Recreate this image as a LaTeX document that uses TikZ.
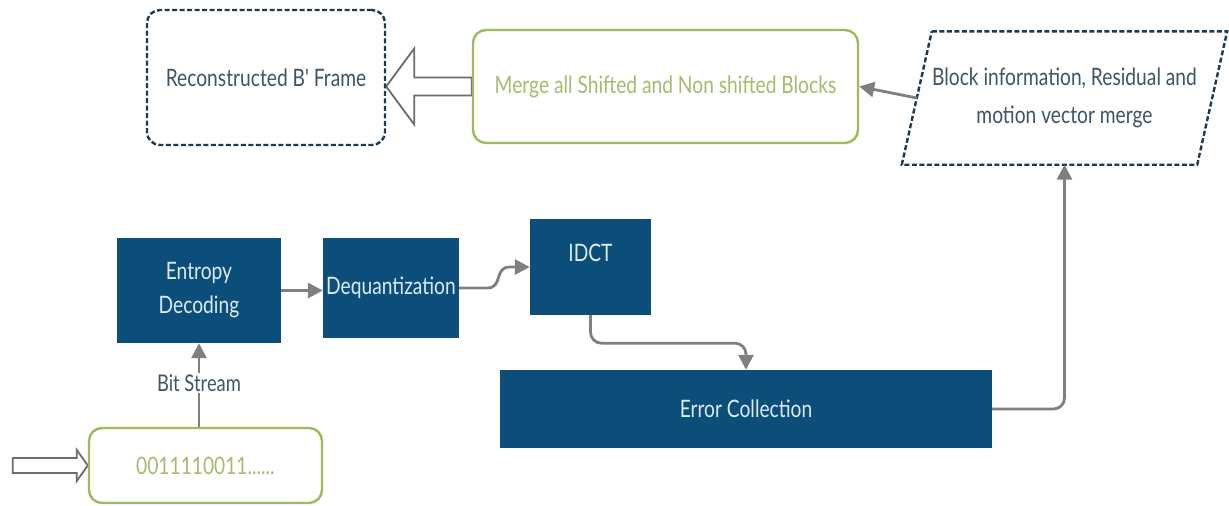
\documentclass[tikz,border=0pt]{standalone}
\usepackage{fontspec}
\setmainfont{Lato}[FakeStretch=0.8]
\newfontfamily\rawlato{Lato}[FakeStretch=0.8,Ligatures=TeXOff]
\usetikzlibrary{arrows.meta,calc}
\pgfdeclarelayer{background}
\pgfsetlayers{background,main}
\definecolor{dblue}{HTML}{0C4E7A}
\definecolor{dashc}{HTML}{1E3A4F}
\definecolor{grline}{HTML}{9DBA5C}
\definecolor{grtext}{HTML}{A3BC6E}
\definecolor{arc}{HTML}{7F7F7F}
\definecolor{txt}{HTML}{3E5566}
\definecolor{lt}{HTML}{DCEBF5}
\begin{document}
\begin{tikzpicture}[x=1pt,y=-1pt,
  bluebox/.style={fill=dblue,draw=none,text=lt,font=\fontsize{24}{34}\selectfont,align=center,inner sep=0pt},
  greenbox/.style={draw=grline,line width=2.4pt,rounded corners=13pt,text=grtext,font=\fontsize{24}{28}\selectfont,align=center,inner sep=0pt},
  dashbox/.style={draw=dashc,line width=2.4pt,dash pattern=on 5pt off 2.5pt,rounded corners=13pt,text=txt,font=\fontsize{24}{28}\selectfont,align=center,inner sep=0pt},
  flow/.style={draw=arc,line width=2.8pt,-{Triangle[length=15pt,width=15pt]}},
  plain/.style={draw=arc,line width=2.2pt},
  hollow/.style={draw=arc!85!black,line width=1.8pt,fill=white,line join=miter},
  lbl/.style={text=txt,font=\fontsize{23}{28}\selectfont,inner sep=1pt}]
\useasboundingbox (0,0) rectangle (1229,506);

% nodes
\node[dashbox,minimum width=238pt,minimum height=135pt] (recon) at (266,77.5) {Reconstructed B{\rawlato '} Frame};
\node[greenbox,minimum width=385pt,minimum height=113pt] (merge) at (665.5,86.5) {Merge all Shifted and Non shifted Blocks};
\node[draw=none,minimum width=295pt,minimum height=133pt,text=txt,font=\fontsize{24}{38}\selectfont,align=center,inner sep=0pt] (para) at (1064.5,98) {Block information, Residual and\\motion vector merge};
\draw[draw=dashc,line width=2.4pt,dash pattern=on 5pt off 2.5pt]
  ($(para.north west)+(15,0)$) -- ($(para.north east)+(15,0)$) --
  ($(para.south east)+(-15,0)$) -- ($(para.south west)+(-15,0)$) -- cycle;

\node[bluebox,minimum width=164pt,minimum height=105pt] (ent) at (199,290.5) {Entropy\\Decoding};
\node[bluebox,minimum width=136pt,minimum height=100pt] (deq) at (391,288) {Dequantization};
\node[bluebox,minimum width=121pt,minimum height=96pt] (idct) at (590.5,267) {};
\node[text=lt,font=\fontsize{24}{28}\selectfont,inner sep=0pt] (idcttext) at ($(idct.center)+(0,-14)$) {IDCT};
\node[bluebox,minimum width=492pt,minimum height=78pt] (err) at (746,409) {Error Collection};
\node[greenbox,minimum width=233pt,minimum height=75pt] (bits) at (205.5,465.5) {0011110011......};
\node[lbl] (bitlbl) at (199,383) {Bit Stream};

% connectors
\draw[flow] (para.west) -- (merge.east);
\draw[flow] (ent.east) -- (deq.west |- ent.east);
\draw[flow] (deq.east) -- ++(28,0) .. controls +(16,0) and +(-16,0) .. ($(idct.west)+(-20,0)$) -- (idct.west);
\coordinate (m1) at ($(idct.south)+(0,28)$);
\draw[flow,rounded corners=11pt] (idct.south) -- (m1) -| (err.north);
\draw[flow,rounded corners=11pt] (err.east) -| (para.south);
\draw[flow] (bitlbl.north) -- (ent.south);
\draw[plain] (bitlbl.south |- bits.north) -- (bitlbl.south);

\begin{pgfonlayer}{background}
\fill[white] (0,0) rectangle (1229,506);
\coordinate (t1) at (recon.east |- merge.west);
\draw[hollow] (t1) -- ++(28,-38) -- ++(0,29) -- ($(merge.west)+(0,-9)$) -- ($(merge.west)+(0,9)$)
  -- ($(t1)+(28,9)$) -- ($(t1)+(28,38)$) -- cycle;
\draw[hollow] (bits.west) -- ++(-11,-15.5) -- ++(0,8) -- ++(-64,0) -- ++(0,15) -- ++(64,0) -- ++(0,8) -- cycle;
\end{pgfonlayer}
\end{tikzpicture}
\end{document}
